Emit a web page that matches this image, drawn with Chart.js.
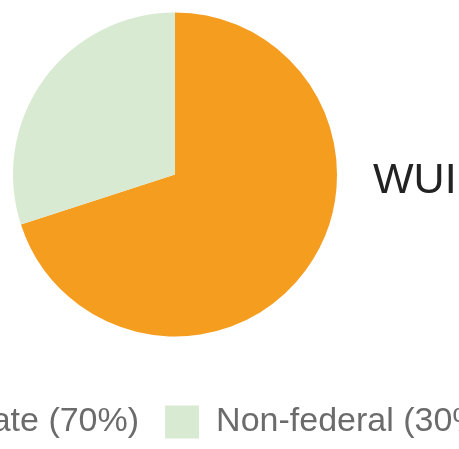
<!DOCTYPE html>
<html>
<head>
<meta charset="utf-8">
<script src="https://cdn.jsdelivr.net/npm/chart.js@4"></script>
<style>
  html, body { margin: 0; padding: 0; background: #fff; overflow: hidden; }
  #wrap { position: absolute; left: -162px; top: -30px; }
</style>
</head>
<body>
<div id="wrap"><canvas id="myChart" width="700" height="479"></canvas></div>
<script>
const categories = ['Private (70%)', 'Non-federal (30%)'];
const shares = [70, 30];
const sliceColors = ['#F59D1F', '#D9EAD3'];
const sideLabel = 'WUI';

// draws the big side label to the right of the pie
const sideText = {
    id: 'sideText',
    afterDraw(chart) {
        const c = chart.ctx;
        c.save();
        c.font = '43px "Liberation Sans", Arial, sans-serif';
        c.fillStyle = '#222';
        c.textAlign = 'left';
        c.textBaseline = 'alphabetic';
        c.fillText(sideLabel, 535, 223);
        c.restore();
    }
};

const ctx = document.getElementById('myChart').getContext('2d');
const myChart = new Chart(ctx, {
    type: 'pie',
    data: {
        labels: categories,
        datasets: [{
            data: shares,
            backgroundColor: sliceColors,
            borderWidth: 0,
            hoverOffset: 0,
            radius: 162
        }]
    },
    options: {
        responsive: false,
        animation: false,
        devicePixelRatio: 1,
        layout: { padding: 0 },
        plugins: {
            // empty title, only a spacer on the right
            title: {
                display: true,
                text: ' ',
                position: 'right',
                fullSize: false,
                padding: 5,
                font: { size: 16, lineHeight: 1 }
            },
            legend: {
                position: 'bottom',
                labels: {
                    boxWidth: 34,
                    boxHeight: 33,
                    padding: 26,
                    color: '#6b6b6b',
                    font: { size: 34, family: '"Liberation Sans", Arial, sans-serif' }
                }
            },
            tooltip: { enabled: false }
        }
    },
    plugins: [sideText]
});
</script>
</body>
</html>
